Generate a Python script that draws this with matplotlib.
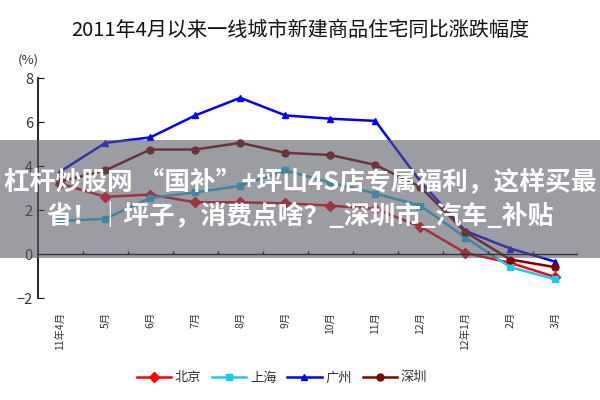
import matplotlib
matplotlib.use("Agg")
import matplotlib.pyplot as plt
from matplotlib.patches import Rectangle

plt.rcParams['font.family'] = ['Noto Sans CJK SC', 'DejaVu Sans']

# =========================
# DATA
# =========================

months = ["11年4月", "5月", "6月", "7月", "8月", "9月",
          "10月", "11月", "12月", "12年1月", "2月", "3月"]

beijing = [3.2, 2.6, 2.7, 2.35, 2.35, 2.3, 2.2, 2.05, 1.25, 0.05, -0.4, -1.05]
shanghai = [1.5, 1.6, 2.55, 2.8, 3.1, 3.8, 3.25, 2.75, 2.2, 0.75, -0.6, -1.15]
guangzhou = [3.75, 5.05, 5.3, 6.3, 7.1, 6.3, 6.15, 6.05, 3.3, 1.05, 0.25, -0.35]
shenzhen = [3.3, 3.8, 4.75, 4.75, 5.05, 4.6, 4.5, 4.05, 3.05, 1.0, -0.25, -0.6]

series = [
    ("北京", beijing, "#ff0000", "D"),
    ("上海", shanghai, "#1ec8f0", "s"),
    ("广州", guangzhou, "#0000ff", "^"),
    ("深圳", shenzhen, "#800000", "o"),
]

title = "2011年4月以来一线城市新建商品住宅同比涨跌幅度"
overlay_1 = "杠杆炒股网 “国补”+坪山4S店专属福利，这样买最"
overlay_2 = "省！｜坪子，消费点啥？_深圳市_汽车_补贴"

# =========================
# PLOT
# =========================

fig = plt.figure(figsize=(6, 4), dpi=100)
ax = fig.add_axes([0.063, 0.255, 0.9, 0.55])

x = list(range(len(months)))
for name, vals, color, marker in series:
    ax.plot(x, vals, color=color, marker=marker, markersize=5,
            linewidth=1.8, label=name)

ax.set_xlim(-0.5, len(months) - 0.5)
ax.set_ylim(-2, 8)

for side in ["top", "right", "bottom"]:
    ax.spines[side].set_visible(False)
ax.spines["left"].set_linewidth(1.2)

ax.set_yticks([-2, 0, 2, 4, 6, 8])
ax.tick_params(axis="y", direction="in", length=4, labelsize=10.5,
               labelcolor="#333333")

# zero line with category boundary ticks
ax.axhline(0, color="black", linewidth=1.0)
ax.vlines([i + 0.5 for i in range(len(months))], 0, 0.14,
          color="black", linewidth=1.0)

ax.set_xticks(x)
ax.set_xticklabels(months, rotation=90, fontsize=7.5, color="#333333")
ax.tick_params(axis="x", length=0, pad=10)

fig.text(0.03, 0.84, "(%)", fontsize=9.5, color="#333333")

fig.text(0.5, 0.925, title, ha="center", va="center", fontsize=14.5,
         color="#111111")

fig.legend(loc="center", bbox_to_anchor=(0.47, 0.055), ncol=4,
           frameon=False, fontsize=9.5, handlelength=2.6,
           handletextpad=0.3, columnspacing=0.8, labelcolor="#333333")

# =========================
# OVERLAY BANNER
# =========================

band = Rectangle((0, 1 - 258 / 400), 1, 118 / 400,
                 transform=fig.transFigure, facecolor="#5a5a66",
                 alpha=0.6, edgecolor="none", zorder=10)
fig.add_artist(band)

fig.text(0.5, 1 - 183 / 400, overlay_1, ha="center", va="center",
         fontsize=18.5, fontweight="bold", color="white", zorder=11)
fig.text(0.5, 1 - 216 / 400, overlay_2, ha="center", va="center",
         fontsize=18.5, fontweight="bold", color="white", zorder=11)

fig.savefig("out.png", dpi=100)
